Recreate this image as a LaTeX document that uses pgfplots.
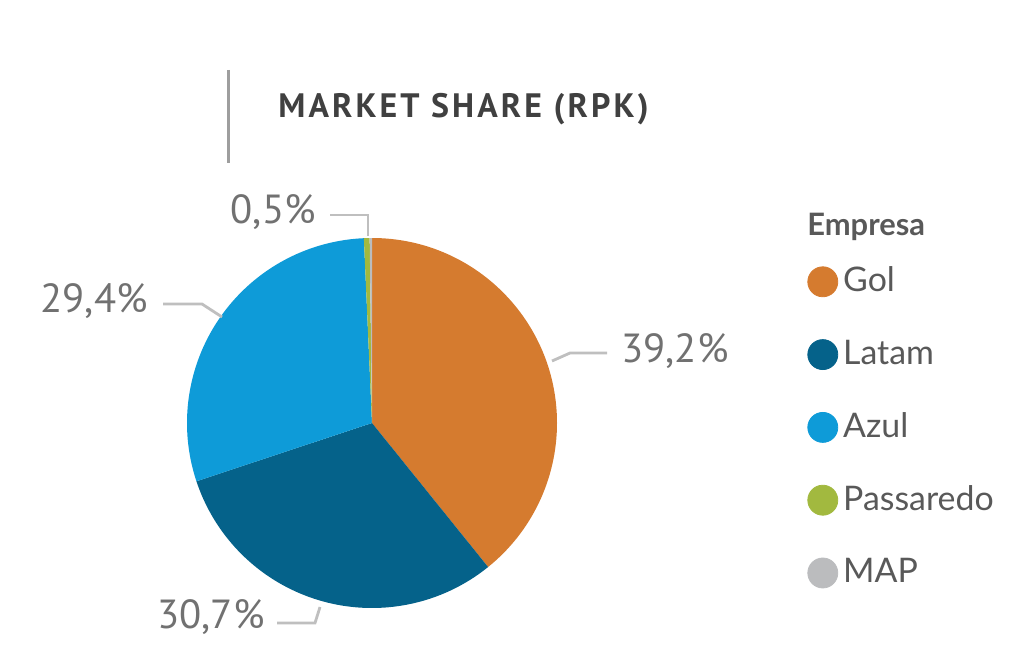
\documentclass[border=0pt]{standalone}
\usepackage{fontspec}
\usepackage{pgfplots}
\usepackage{pgfplotstable}
\pgfplotsset{compat=1.18}
\setmainfont{Lato}
\newfontfamily\labelfont{PT Sans}
\newfontfamily\titlefont[LetterSpace=9]{PT Sans}

\definecolor{gol}{HTML}{D57B2F}
\definecolor{latam}{HTML}{05628A}
\definecolor{azul}{HTML}{0E9BD8}
\definecolor{passaredo}{HTML}{A2B93F}
\definecolor{map}{HTML}{BBBCBE}
\definecolor{titletext}{HTML}{404040}
\definecolor{labeltext}{HTML}{717171}
\definecolor{legendtext}{HTML}{595959}
\definecolor{leader}{HTML}{BFBFBF}

% market share (RPK), percent
\pgfplotstableread{
empresa share
Gol 39.2
Latam 30.7
Azul 29.4
Passaredo 0.5
MAP 0.2
}\sharetable

% start/end angle of each slice, clockwise from the top
\def\angcum{90}
\pgfplotstableforeachcolumnelement{share}\of\sharetable\as\val{%
  \pgfmathsetmacro\angnext{\angcum-3.6*\val}%
  \expandafter\xdef\csname angs\pgfplotstablerow\endcsname{\angcum}%
  \expandafter\xdef\csname ange\pgfplotstablerow\endcsname{\angnext}%
  \xdef\angcum{\angnext}%
}

\newcommand\pieslice[2]{%
  \fill[#2] (axis cs:372,423) -- ([shift={(\csname angs#1\endcsname:92.5bp)}]axis cs:372,423)
    arc[start angle=\csname angs#1\endcsname, end angle=\csname ange#1\endcsname, radius=92.5bp] -- cycle;}

\begin{document}
\begin{tikzpicture}
\begin{axis}[
  scale only axis,
  width=512bp, height=331bp,
  xmin=0, xmax=1024, ymin=0, ymax=662,
  y dir=reverse,
  hide axis,
  clip=false,
  legend image code/.code={\fill[#1] (7.5bp,0bp) circle (7.5bp);},
  legend cell align=left,
  legend style={
    at={(axis cs:807,266)}, anchor=north west,
    draw=none, fill=none, inner sep=0pt,
    row sep=21bp, column sep=2.5bp,
    font=\fontsize{17}{20}\selectfont, text=legendtext,
    nodes={inner sep=0pt, text height=10bp, text depth=0bp},
  },
]
\path (rel axis cs:0,0) rectangle (rel axis cs:1,1);

\pieslice{0}{gol}
\pieslice{1}{latam}
\pieslice{2}{azul}
\pieslice{3}{passaredo}
\pieslice{4}{map}

\addlegendimage{gol}\addlegendentry{Gol}
\addlegendimage{latam}\addlegendentry{Latam}
\addlegendimage{azul}\addlegendentry{Azul}
\addlegendimage{passaredo}\addlegendentry{Passaredo}
\addlegendimage{map}\addlegendentry{MAP}

% title with the bar on its left
\draw[line width=1.5bp, color=black!38] (axis cs:228,70) -- (axis cs:228,163);
\node[anchor=base west, inner sep=0pt, text=titletext,
  font=\titlefont\bfseries\fontsize{17}{20}\selectfont] at (axis cs:278,117) {MARKET SHARE (RPK)};

\node[anchor=base west, inner sep=0pt, text=legendtext,
  font=\bfseries\fontsize{15.5}{18}\selectfont] at (axis cs:807,235) {Empresa};

% leader lines and labels
\begin{scope}[line width=1.4bp, color=leader]
  \draw (axis cs:330,215) -- (axis cs:368,215) -- (axis cs:368,236);
  \draw (axis cs:163,304) -- (axis cs:202,304) -- (axis cs:222,317);
  \draw (axis cs:552,361) -- (axis cs:570,353) -- (axis cs:607,353);
  \draw (axis cs:277,623) -- (axis cs:315,623) -- (axis cs:320,607);
\end{scope}
\begin{scope}[every node/.style={inner sep=0pt, text=labeltext,
  font=\labelfont\fontsize{20.4}{24}\selectfont}]
  \node[anchor=base east] at (axis cs:316,223) {0,5\%};
  \node[anchor=base east] at (axis cs:148,312) {29,4\%};
  \node[anchor=base west] at (axis cs:621,362) {39,2\%};
  \node[anchor=base west] at (axis cs:157,628) {30,7\%};
\end{scope}
\end{axis}
\end{tikzpicture}
\end{document}
